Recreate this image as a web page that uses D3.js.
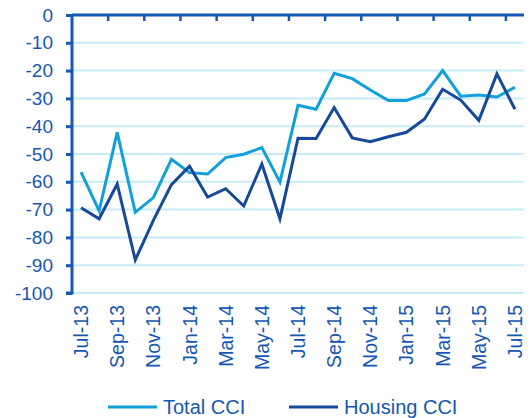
<!DOCTYPE html>
<html lang="en">
<head>
	<meta charset="utf-8">
	<title>CCI chart</title>
	<script src="https://d3js.org/d3.v7.min.js"></script>
	<style>
		body { margin: 0; background: #fff; }
		text { font-family: "Liberation Sans", Arial, sans-serif; fill: #1657b3; }
	</style>
</head>
<body>
	<svg id="chart"></svg>
	<script>
		// data
		var months = ["Jul-13","Aug-13","Sep-13","Oct-13","Nov-13","Dec-13",
			"Jan-14","Feb-14","Mar-14","Apr-14","May-14","Jun-14",
			"Jul-14","Aug-14","Sep-14","Oct-14","Nov-14","Dec-14",
			"Jan-15","Feb-15","Mar-15","Apr-15","May-15","Jun-15","Jul-15"]
		var totalCCI = [-56.5,-70.5,-42.2,-71.0,-65.7,-51.9,
			-56.7,-57.2,-51.3,-50.1,-47.7,-60.1,
			-32.5,-33.9,-21.0,-22.9,-27.0,-30.8,
			-30.8,-28.4,-20.0,-29.2,-28.8,-29.5,-26.0]
		var housingCCI = [-69.3,-73.3,-60.8,-88.1,-73.9,-61.0,
			-54.4,-65.5,-62.5,-68.7,-53.6,-73.3,
			-44.3,-44.4,-33.3,-44.2,-45.6,-43.8,
			-42.2,-37.4,-26.7,-30.6,-37.9,-21.2,-33.9]
		var yTicks = [0,-10,-20,-30,-40,-50,-60,-70,-80,-90,-100]
		var seriesNames = ["Total CCI", "Housing CCI"]

		var lightBlue = "#12a0dc"
		var darkBlue = "#17499a"
		var axisBlue = "#1657b3"
		var gridBlue = "#c9eaf7"

		var W = 531, H = 418
		var margin = {left:72, right:7, top:15, bottom:125}
		var width = W - margin.left - margin.right
		var height = H - margin.top - margin.bottom

		var svg = d3.select("#chart").attr("width", W).attr("height", H)
		var g = svg.append("g").attr("transform", "translate(" + margin.left + "," + margin.top + ")")

		var x = d3.scaleBand().domain(months).range([0, width])
		var y = d3.scaleLinear().domain([-100, 0]).range([height, 0])
		var cx = d => x(d) + x.bandwidth() / 2

		// gridlines
		g.selectAll(".grid").data(yTicks.filter(d => d !== 0)).join("line")
			.attr("x1", 0).attr("x2", width)
			.attr("y1", d => y(d)).attr("y2", d => y(d))
			.attr("stroke", gridBlue).attr("stroke-width", 2)

		// y axis (hyphen minus, not unicode minus)
		var yAxis = g.append("g").call(d3.axisLeft(y).tickValues(yTicks).tickSize(6).tickPadding(13)
			.tickFormat(d => String(d)))
		yAxis.selectAll("path, line").attr("stroke", axisBlue).attr("stroke-width", 3)
		yAxis.select(".domain").attr("d", "M-6," + height + "H0V0")
		yAxis.selectAll("text").style("font-size", "19px").attr("fill", axisBlue)
			.style("font-family", "Liberation Sans, Arial, sans-serif")

		// top axis (value 0) with tick marks between category pairs
		g.append("line").attr("x1", 0).attr("x2", width).attr("y1", 0).attr("y2", 0)
			.attr("stroke", axisBlue).attr("stroke-width", 3)
		var bounds = months.filter((d, i) => i > 0 && i % 2 === 0)
		g.selectAll(".xtick").data(bounds).join("line")
			.attr("x1", d => x(d)).attr("x2", d => x(d))
			.attr("y1", 0).attr("y2", 6)
			.attr("stroke", axisBlue).attr("stroke-width", 2.5)

		// x labels
		g.selectAll(".xlab").data(months.filter((d, i) => i % 2 === 0)).join("text")
			.attr("transform", d => "translate(" + (cx(d) + 7) + "," + (height + 12) + ") rotate(-90)")
			.attr("text-anchor", "end")
			.style("font-size", "19.5px")
			.text(d => d)

		// lines
		var line = d3.line().x((d, i) => cx(months[i])).y(d => y(d))
		g.append("path").attr("d", line(totalCCI)).attr("fill", "none")
			.attr("stroke", lightBlue).attr("stroke-width", 3).attr("stroke-linejoin", "miter")
		g.append("path").attr("d", line(housingCCI)).attr("fill", "none")
			.attr("stroke", darkBlue).attr("stroke-width", 3).attr("stroke-linejoin", "miter")

		// legend
		var legend = svg.append("g").attr("transform", "translate(0,407)")
		var items = [{name: seriesNames[0], color: lightBlue, x: 108}, {name: seriesNames[1], color: darkBlue, x: 289}]
		items.forEach(it => {
			legend.append("line").attr("x1", it.x).attr("x2", it.x + 49).attr("y1", 0).attr("y2", 0)
				.attr("stroke", it.color).attr("stroke-width", 3)
			legend.append("text").attr("x", it.x + 55).attr("y", 7).style("font-size", "20px").text(it.name)
		})
	</script>
</body>
</html>
